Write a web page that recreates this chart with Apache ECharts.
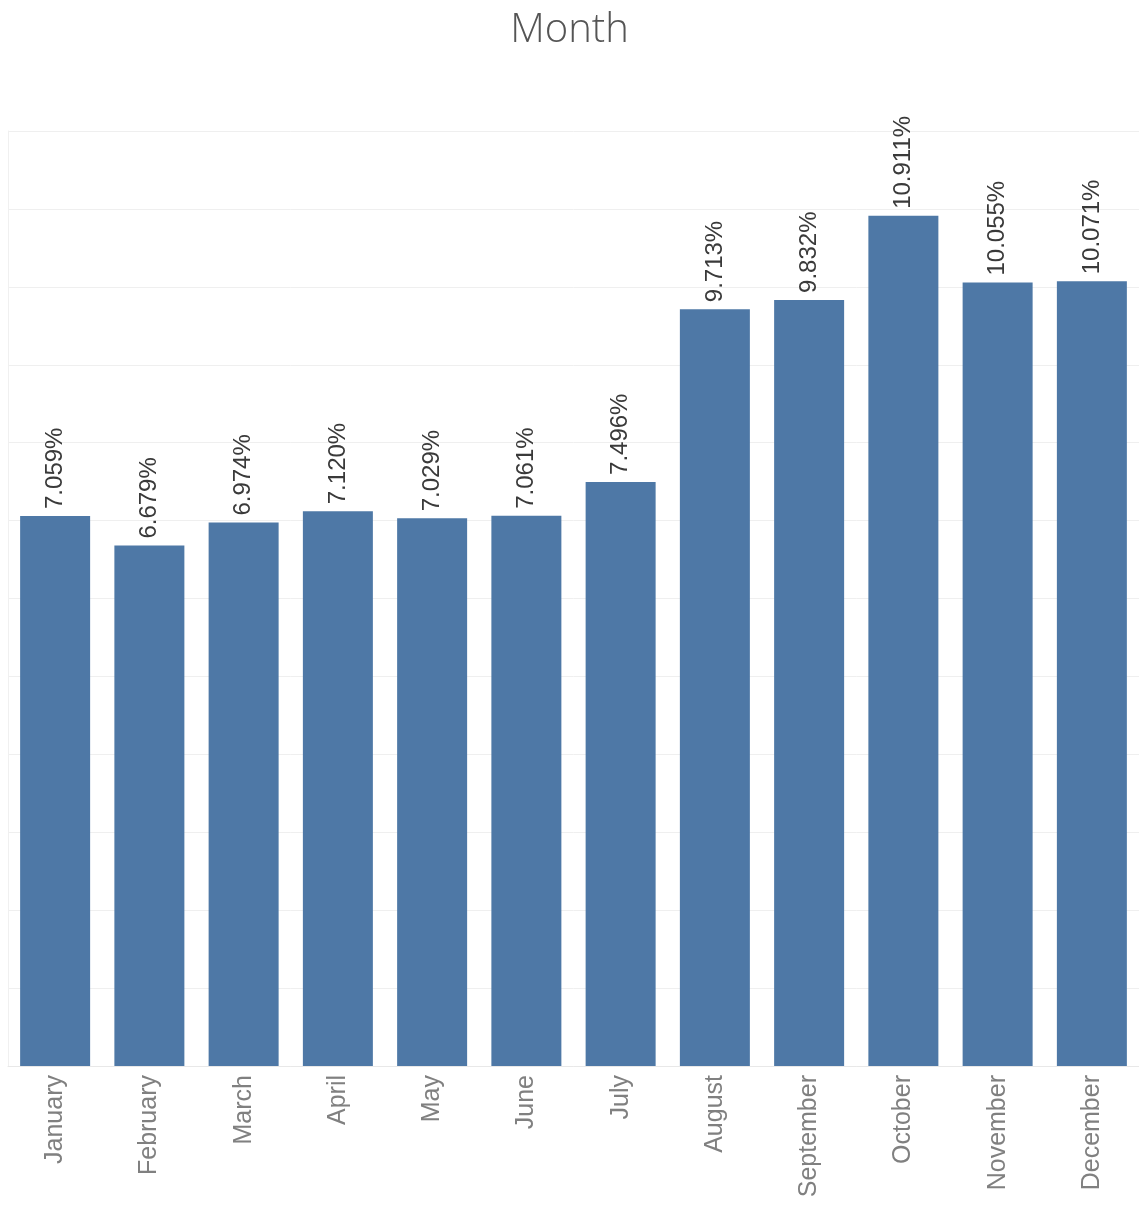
<!DOCTYPE html>
<html>
<head>
<meta charset="utf-8">
<script src="https://cdn.jsdelivr.net/npm/echarts@6/dist/echarts.min.js"></script>
<style>
  html, body { margin: 0; padding: 0; background: #fff; }
  #chart { width: 1139px; height: 1205px; }
</style>
</head>
<body>
<div id="chart"></div>
<script>
// Share of yearly total per month (%)
const months = ['January', 'February', 'March', 'April', 'May', 'June',
                'July', 'August', 'September', 'October', 'November', 'December'];
const shares = [7.059, 6.679, 6.974, 7.120, 7.029, 7.061,
                7.496, 9.713, 9.832, 10.911, 10.055, 10.071];

const chart = echarts.init(document.getElementById('chart'));
chart.setOption({
  animation: false,
  backgroundColor: '#ffffff',
  title: {
    text: 'Month',
    left: 'center',
    top: 6,
    textStyle: {
      fontFamily: 'Open Sans',
      fontWeight: 300,
      fontSize: 40,
      color: '#555555'
    }
  },
  grid: { left: 8, right: -2, top: 131, bottom: 139 },
  xAxis: {
    type: 'category',
    data: months,
    axisLine: { show: true, lineStyle: { color: '#e8e8e8', width: 1 } },
    axisTick: { show: false },
    axisLabel: {
      rotate: 90,
      margin: 9,
      fontFamily: 'Liberation Sans',
      fontSize: 25,
      color: '#808080'
    }
  },
  yAxis: {
    type: 'value',
    min: 0,
    max: 12,
    interval: 1,
    axisLine: { show: true, lineStyle: { color: '#f0f0f0' } },
    axisTick: { show: false },
    axisLabel: { show: false },
    splitLine: { show: true, lineStyle: { color: '#efefef', width: 1 } }
  },
  series: [{
    type: 'bar',
    data: shares,
    barWidth: 70,
    itemStyle: { color: '#4e78a6' },
    label: {
      show: true,
      position: 'top',
      rotate: 90,
      align: 'left',
      verticalAlign: 'middle',
      distance: 7,
      fontFamily: 'Liberation Sans',
      fontSize: 24,
      color: '#3a3a3a',
      formatter: p => p.value.toFixed(3) + '%'
    }
  }]
});
</script>
</body>
</html>
